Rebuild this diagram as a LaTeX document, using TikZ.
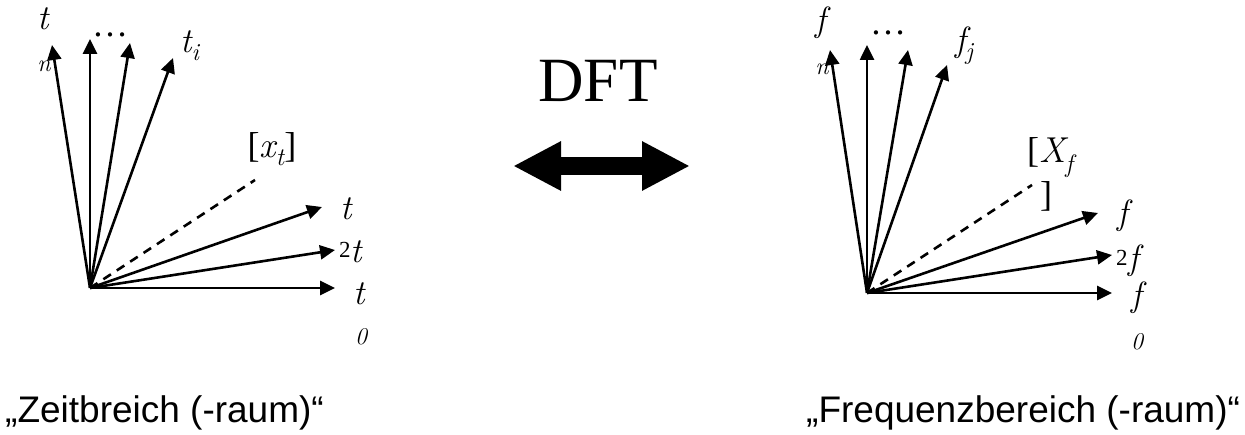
\documentclass[tikz,border=0pt]{standalone}
\usepackage{fontspec}
\newfontfamily\timesfont{Liberation Serif}
\newfontfamily\arialfont{Liberation Sans}
\usetikzlibrary{arrows.meta}
\tikzset{
  vec/.style={line width=2.6pt, -{Triangle[length=15pt,width=14pt]}},
  dvec/.style={line width=2.6pt, dash pattern=on 9pt off 7pt},
  dft/.style={line width=18pt, {Triangle[length=48pt,width=46pt]}-{Triangle[length=48pt,width=46pt]}},
  lbl/.style={font=\fontsize{35}{35}\selectfont\itshape\addfontfeatures{FakeBold=1.2}, inner sep=0pt, anchor=base},
  sml/.style={font=\fontsize{24}{24}\selectfont\itshape\addfontfeatures{FakeBold=1}, inner sep=0pt, anchor=base},
  rom/.style={font=\timesfont\fontsize{36}{36}\selectfont, inner sep=0pt, anchor=base},
  domtxt/.style={font=\arialfont\fontsize{37}{37}\selectfont, inner sep=0pt, anchor=base west}
}
\newcommand\lmx[1]{{\normalfont\itshape\addfontfeatures{FakeBold=1.2}#1}}
\begin{document}
\begin{tikzpicture}[x=1pt, y=-1pt, line join=round]
			\useasboundingbox (0,0) rectangle (1245,435);
			% Zeitbereich
			\coordinate (O1) at (90,288);
			\coordinate (tn) at (52,45);
			\coordinate (tv) at (90,39);
			\coordinate (tk) at (130,43);
			\coordinate (ti) at (173,58);
			\coordinate (xt) at (255,180);
			\coordinate (ta) at (322,207);
			\coordinate (tb) at (335,250);
			\coordinate (tc) at (335,288);
			\foreach \p in {tn,tv,tk,ti,ta,tb,tc}
			\draw[vec] (O1) -- (\p);
			\draw[dvec] (O1) -- (xt);
			\node[lbl] (ltn) at (43,30) {t};
			\node[sml] (ln1) at (44,72) {n};
			\node[rom] (ld1) at (110,37) {\dots};
			\node[lbl, anchor=base west] (lti) at (180,53) {t\textsubscript{i}};
			\node[rom] (lxt) at (272,158) {[\lmx{x}\textsubscript{\lmx{t}}]};
			\node[lbl] (lta) at (346,220) {t};
			\node[rom, font=\timesfont\fontsize{23}{23}\selectfont, anchor=base west] (l2a) at (339,258) {2};
			\node[lbl] (ltb) at (356,263) {t};
			\node[lbl] (ltc) at (359,305) {t};
			\node[sml] (l0a) at (361,345) {0};
			% Frequenzbereich
			\coordinate (O2) at (867,293);
			\coordinate (fn) at (830,50);
			\coordinate (fv) at (867,45);
			\coordinate (fk) at (908,50);
			\coordinate (fj) at (947,65);
			\coordinate (xf) at (1032,185);
			\coordinate (fa) at (1098,213);
			\coordinate (fb) at (1112,255);
			\coordinate (fc) at (1112,293);
			\foreach \p in {fn,fv,fk,fj,fa,fb,fc}
			\draw[vec] (O2) -- (\p);
			\draw[dvec] (O2) -- (xf);
			\node[lbl] (lfn) at (821,32) {f};
			\node[sml] (ln2) at (822,75) {n};
			\node[rom] (ld2) at (888,35) {\dots};
			\node[lbl, anchor=base west] (lfj) at (955,52) {f\textsubscript{j}};
			\node[rom, anchor=base west] (lxf) at (1027,163) {[\lmx{X}\textsubscript{\lmx{f}}};
			\node[rom] (lbr) at (1046,207) {]};
			\node[lbl] (lfa) at (1123,225) {f};
			\node[rom, font=\timesfont\fontsize{23}{23}\selectfont, anchor=base west] (l2b) at (1116,266) {2};
			\node[lbl] (lfb) at (1134,270) {f};
			\node[lbl] (lfc) at (1137,307) {f};
			\node[sml] (l0b) at (1137,350) {0};
			% DFT
			\node[rom, font=\timesfont\fontsize{63}{63}\selectfont] (dftlbl) at (598,102) {DFT};
			\coordinate (dl) at (513,166);
			\coordinate (dr) at (690,166);
			\draw[dft] (dl) -- (dr);
			% Bereiche
			\node[domtxt] (zeit) at (5,422) {„Zeitbreich (-raum)“};
			\node[domtxt] (freq) at (806,422) {„Frequenzbereich (-raum)“};
		\end{tikzpicture}
\end{document}
